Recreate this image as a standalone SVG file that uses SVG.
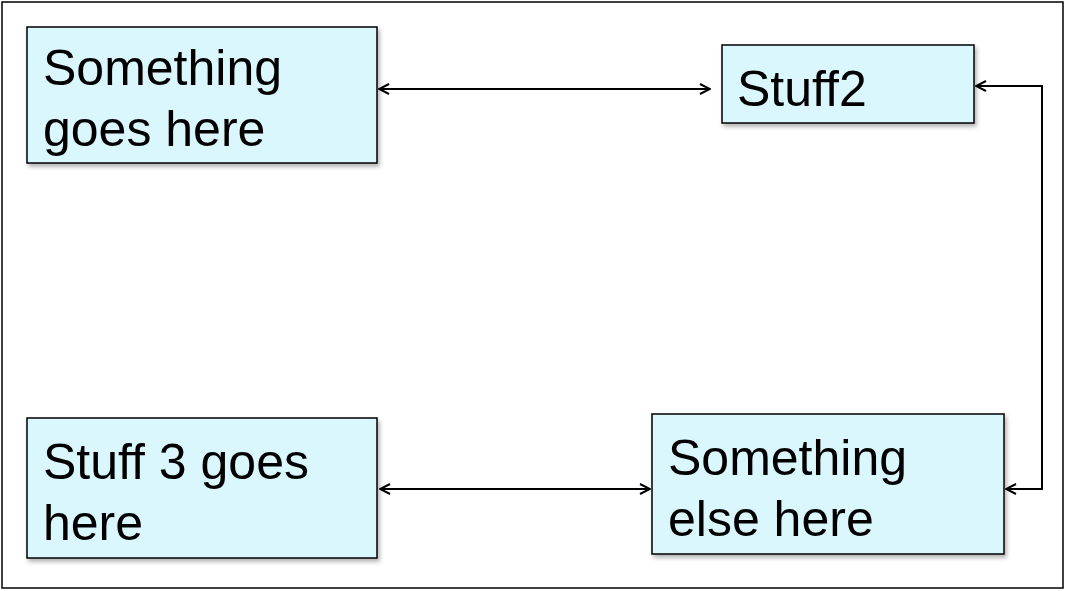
<svg xmlns="http://www.w3.org/2000/svg" width="1066" height="591" viewBox="0 0 1066 591">
<style>
.box{fill:#daf7fd;stroke:#000;stroke-width:1.5}
.t{font-family:"Liberation Sans",Arial,sans-serif;font-size:50px;fill:#000}
.c{fill:none;stroke:#000;stroke-width:2;marker-start:url(#a);marker-end:url(#a)}
</style>
<defs>
<marker id="a" viewBox="0 0 12 12" refX="11" refY="6" markerWidth="12" markerHeight="12" markerUnits="userSpaceOnUse" orient="auto-start-reverse">
<path d="M1,1 L11,6 L1,11" fill="none" stroke="#000" stroke-width="2"/>
</marker>
<filter id="s" x="-5%" y="-5%" width="115%" height="120%"><feDropShadow dx="2" dy="3" stdDeviation="2" flood-opacity="0.3"/></filter>
</defs>
<rect x="2" y="2" width="1061" height="586" fill="#fff" stroke="#000" stroke-width="1.5"/>
<g id="n1"><rect class="box" filter="url(#s)" x="27" y="27" width="350" height="136"/><text class="t" x="43" y="85">Something</text><text class="t" x="43" y="146">goes here</text></g>
<g id="n2"><rect class="box" filter="url(#s)" x="722" y="45" width="252" height="78"/><text class="t" x="737" y="106">Stuff2</text></g>
<g id="n3"><rect class="box" filter="url(#s)" x="27" y="418" width="350" height="140"/><text class="t" x="43" y="479">Stuff 3 goes</text><text class="t" x="43" y="540">here</text></g>
<g id="n4"><rect class="box" filter="url(#s)" x="652" y="414" width="352" height="140"/><text class="t" x="668" y="475">Something</text><text class="t" x="668" y="536">else here</text></g>
<g id="connectors">
<path class="c" d="M379,89 H710"/>
<path class="c" d="M976,86 H1042 V489 H1006"/>
<path class="c" d="M380,489 H650"/>
</g>
</svg>
